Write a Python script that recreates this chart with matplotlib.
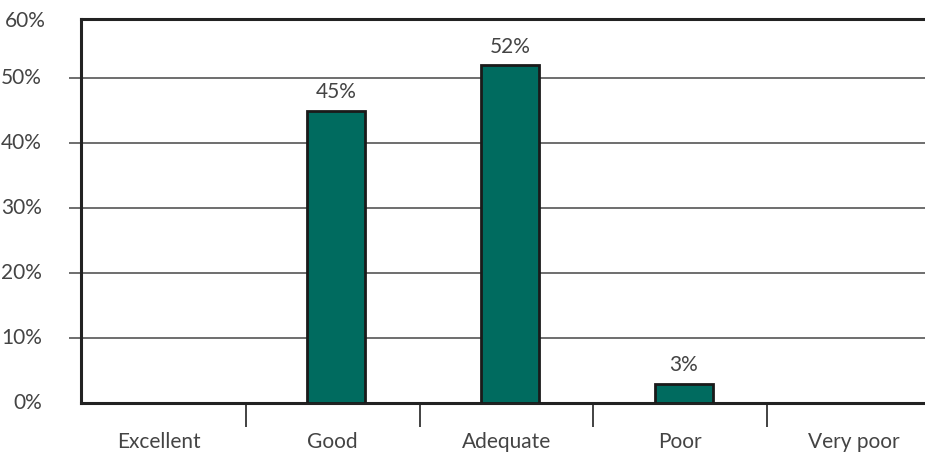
import matplotlib
matplotlib.use("Agg")
import matplotlib.pyplot as plt
import numpy as np

# ---------------------------------------------------------------------
# Data
# ---------------------------------------------------------------------
categories = ["Excellent", "Good", "Adequate", "Poor", "Very poor"]
values = [0, 45, 52, 3, 0]
bar_labels = ["", "45%", "52%", "3%", ""]
y_ticks = [0, 10, 20, 30, 40, 50]
y_tick_labels = ["0%", "10%", "20%", "30%", "40%", "50%"]
y_top = 59.1
y_top_label = "60%"

BAR_COLOR = "#006B5F"
TEXT_COLOR = "#444444"
FS = 15

plt.rcParams["font.family"] = ["Lato", "DejaVu Sans"]

fig = plt.figure(figsize=(9.25, 4.53), dpi=100)
ax = fig.add_axes([0.0876, 0.1104, 0.9134, 0.8468])

x = np.arange(len(categories))
heights = [v if v > 0 else np.nan for v in values]
ax.bar(x + 0.02, heights, width=0.335, color=BAR_COLOR,
       edgecolor="#1a1a1a", linewidth=2, zorder=3)

for xi, v, lab in zip(x + 0.02, values, bar_labels):
    if lab:
        ax.text(xi, v + 1.3, lab, ha="center", va="bottom",
                fontsize=FS, color=TEXT_COLOR)

ax.set_xlim(-0.449, 4.415)
ax.set_ylim(0, y_top)

# y axis / grid
ax.set_yticks(y_ticks)
ax.set_yticklabels(y_tick_labels)
ax.yaxis.grid(True, color="#555555", linewidth=1.2, zorder=0)
ax.tick_params(axis="y", length=9, width=1.2, color="#555555",
               pad=19, labelsize=FS, labelcolor=TEXT_COLOR)
ax.yaxis.get_major_ticks()[0].tick1line.set_visible(False)
for lab in ax.get_yticklabels():
    lab.set_verticalalignment("center")

# the top label sits on the frame, outside the data range
ax.annotate(y_top_label, xy=(0, y_top), xycoords=ax.get_yaxis_transform(),
            xytext=(-25.5, -1), textcoords="offset points",
            ha="right", va="center", fontsize=FS, color=TEXT_COLOR)

# x axis: labels at centers, tick marks between categories
ax.set_xticks(x)
ax.set_xticklabels(categories)
ax.set_xticks(x[:-1] + 0.5, minor=True)
ax.tick_params(axis="x", which="major", length=0, pad=21,
               labelsize=FS, labelcolor=TEXT_COLOR)
ax.tick_params(axis="x", which="minor", length=17, width=1.2,
               color="#222222", direction="out")

for side in ["left", "top", "bottom"]:
    ax.spines[side].set_linewidth(2.2)
    ax.spines[side].set_color("#222222")
ax.spines["right"].set_visible(False)

fig.savefig("out.png", dpi=100)
